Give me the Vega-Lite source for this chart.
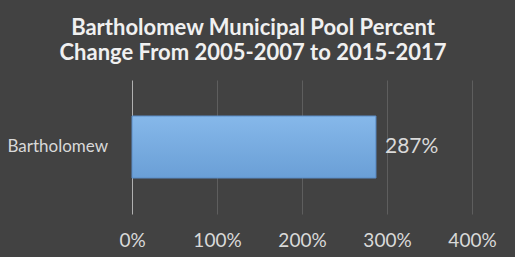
{
  "$schema": "https://vega.github.io/schema/vega-lite/v6.json",
  "autosize": {"type": "none"},
  "width": 340,
  "height": 134,
  "padding": {"left": 132, "top": 80, "right": 43, "bottom": 43},
  "background": "#424242",
  "title": {
    "text": ["Bartholomew Municipal Pool Percent", "Change From 2005-2007 to 2015-2017"],
    "font": "Lato",
    "fontSize": 22,
    "fontWeight": "bold",
    "color": "#f0f0f0",
    "anchor": "middle",
    "frame": "group",
    "dx": -49,
    "baseline": "alphabetic",
    "lineHeight": 25,
    "offset": -2
  },
  "config": {
    "view": {"stroke": null},
    "font": "Lato"
  },
  "data": {"values": [{"pool": "Bartholomew", "change": 2.87}]},
  "layer": [
    {
      "mark": {
        "type": "bar",
        "size": 62,
        "stroke": "#5a8cc6",
        "strokeWidth": 1,
        "color": {
          "gradient": "linear",
          "x1": 0, "y1": 0, "x2": 0, "y2": 1,
          "stops": [
            {"offset": 0, "color": "#86b8ea"},
            {"offset": 1, "color": "#6a9fd6"}
          ]
        }
      },
      "encoding": {
        "y": {
          "field": "pool", "type": "nominal",
          "axis": {
            "title": null, "domain": false, "ticks": false,
            "labelAlign": "left", "labelPadding": 125,
            "labelFontSize": 17, "labelColor": "#d9d9d9", "labelFont": "Lato"
          }
        },
        "x": {
          "field": "change", "type": "quantitative",
          "scale": {"domain": [0, 4], "nice": false},
          "axis": {
            "title": null, "format": "%", "values": [0, 1, 2, 3, 4],
            "domain": false, "ticks": false, "labelFlush": false,
            "labelPadding": 17, "labelFontSize": 19, "labelColor": "#d9d9d9", "labelFont": "Lato",
            "gridColor": {"condition": {"test": "datum.value === 0", "value": "#b0b0b0"}, "value": "#5e5e5e"},
            "gridWidth": 1
          }
        }
      }
    },
    {
      "mark": {"type": "text", "align": "left", "dx": 9, "fontSize": 21, "color": "#d9d9d9", "font": "Lato"},
      "encoding": {
        "y": {"field": "pool", "type": "nominal"},
        "x": {"field": "change", "type": "quantitative"},
        "text": {"field": "change", "type": "quantitative", "format": ".0%"}
      }
    }
  ]
}
